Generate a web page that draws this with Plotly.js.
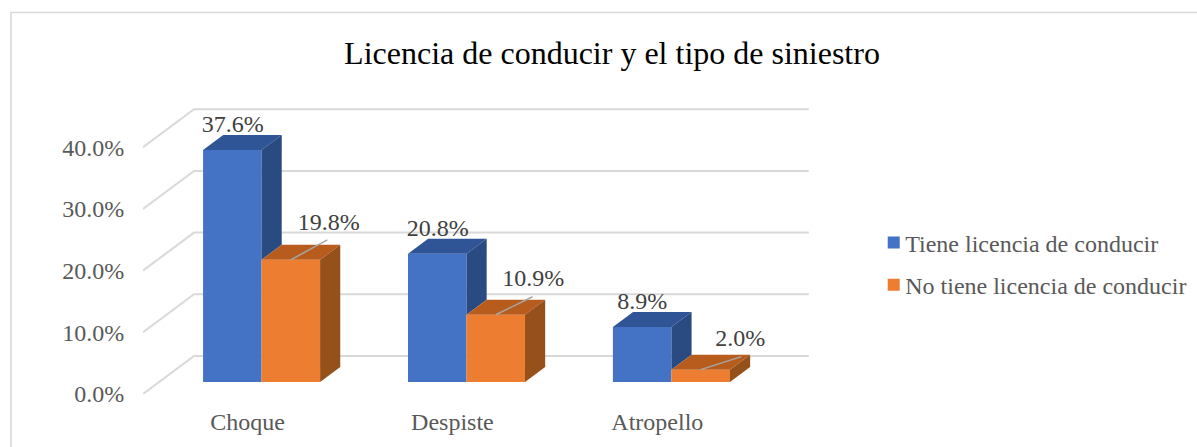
<!DOCTYPE html>
<html>
<head>
<meta charset="utf-8">
<script src="https://cdn.plot.ly/plotly-3.0.1.min.js"></script>
<style>html,body{margin:0;padding:0;background:#fff;overflow:hidden}</style>
</head>
<body>
<div id="chart" style="width:1197px;height:447px"></div>
<script>
const categories = ['Choque', 'Despiste', 'Atropello'];
const tieneLicencia = [37.6, 20.8, 8.9];
const noTieneLicencia = [19.8, 10.9, 2.0];
const seriesNames = ['Tiene licencia de conducir', 'No tiene licencia de conducir'];
const valueTicks = [0, 10, 20, 30, 40];
const valueTickLabels = ['0.0%', '10.0%', '20.0%', '30.0%', '40.0%'];

// 3D look: oblique projection expressed in axis units
const W = 1197, H = 447, L = 143, R = 808.8, T = 100, B = 394;
const xRange = [-0.5, 2.75], yRange = [0, (B - T) / 6.17];
const pxX = (R - L) / (xRange[1] - xRange[0]), pxY = 6.17;
const DX = 51 / pxX, DY = 38 / pxY;       // floor depth
const dFront = 0.316, dBack = 0.711;      // bar position in depth
const barW = 58.5 / pxX;
const P = (x, v, d) => [x + d * DX, v + d * DY];

function poly(points, color) {
  return { type: 'scatter', mode: 'lines', x: points.map(p => p[0]).concat(points[0][0]),
    y: points.map(p => p[1]).concat(points[0][1]), fill: 'toself', fillcolor: color,
    line: { width: 0, color: color }, showlegend: false, hoverinfo: 'skip' };
}

const faces = [];
categories.forEach((c, i) => {
  const a = tieneLicencia[i], b = noTieneLicencia[i];
  // blue: top + visible part of the side (above the orange block)
  faces.push(poly([P(i - barW, a, dFront), P(i, a, dFront), P(i, a, dBack), P(i - barW, a, dBack)], '#2F5597'));
  faces.push(poly([P(i, a, dFront), P(i, a, dBack), P(i, b, dBack), P(i, b, dFront)], '#2A4A82'));
  // orange: top + side
  faces.push(poly([P(i, b, dFront), P(i + barW, b, dFront), P(i + barW, b, dBack), P(i, b, dBack)], '#B85C1E'));
  faces.push(poly([P(i + barW, b, dFront), P(i + barW, b, dBack), P(i + barW, 0, dBack), P(i + barW, 0, dFront)], '#96501A'));
});

// Front faces are the real bars
const base = dFront * DY, shift = dFront * DX;
const bars = [
  { type: 'bar', name: seriesNames[0], legendgroup: 'a', x: [0, 1, 2], y: tieneLicencia, base: base,
    width: barW, offset: shift - barW, marker: { color: '#4472C4' } },
  { type: 'bar', name: seriesNames[1], legendgroup: 'b', x: [0, 1, 2], y: noTieneLicencia, base: base,
    width: barW, offset: shift, marker: { color: '#ED7D31' } }
];

// Wall / floor grid
const shapes = [];
valueTicks.forEach(v => {
  const a = P(-0.5, v, 0), b = P(-0.5, v, 1), c = P(2.5, v, 1);
  shapes.push({ type: 'path', layer: 'below', xref: 'x', yref: 'y',
    path: `M${a[0]},${a[1]}L${b[0]},${b[1]}L${c[0]},${c[1]}`, line: { color: '#D9D9D9', width: 2 } });
});
// outer frame
const px = v => (v - L) / (R - L), py = v => (B - v) / (B - T);
shapes.push({ type: 'path', layer: 'below', xref: 'paper', yref: 'paper',
  path: `M${px(11)},${py(460)}L${px(11)},${py(12.5)}L${px(1210)},${py(12.5)}`, line: { color: '#D9D9D9', width: 1.6 } });

// Data labels (offsets in screen px from the front-top centre of each bar)
const blueLabelOff = [[0.5, 24], [0.5, 23.5], [0, 24]];
const orangeLabelOff = [[38, 36], [37.5, 35], [39.5, 30]];
const leaderEnd = [[36.5, 20], [36.7, 18], [40.7, 13]];
const fmt = v => v.toFixed(1) + '%';
const labelX = [], labelY = [], labelT = [];
const add = (i, v, cx, off) => {
  const p = P(i + cx, v, dFront);
  labelX.push(p[0] + off[0] / pxX); labelY.push(p[1] + off[1] / pxY); labelT.push(fmt(v));
};
categories.forEach((c, i) => add(i, tieneLicencia[i], -barW / 2, blueLabelOff[i]));
categories.forEach((c, i) => add(i, noTieneLicencia[i], barW / 2, orangeLabelOff[i]));
const labels = { type: 'scatter', mode: 'text', x: labelX, y: labelY, text: labelT, textposition: 'middle center',
  textfont: { family: 'Liberation Serif', size: 24, color: '#404040' }, cliponaxis: false, showlegend: false, hoverinfo: 'skip' };
const leaders = categories.map((c, i) => {
  const p = P(i + barW / 2, noTieneLicencia[i], dFront);
  return { type: 'scatter', mode: 'lines', x: [p[0], p[0] + leaderEnd[i][0] / pxX], y: [p[1], p[1] + leaderEnd[i][1] / pxY],
    line: { color: '#A6A6A6', width: 1.5 }, showlegend: false, hoverinfo: 'skip' };
});

const layout = {
  width: W, height: H, paper_bgcolor: '#fff', plot_bgcolor: 'rgba(0,0,0,0)',
  margin: { l: L, r: W - R, t: T, b: H - B, pad: 0, autoexpand: false },
  barmode: 'overlay', shapes: shapes, hovermode: false,
  font: { family: 'Liberation Serif', color: '#595959' },
  title: { text: 'Licencia de conducir y el tipo de siniestro', x: 612 / W, xanchor: 'center', y: 1 - 53 / H, yanchor: 'middle',
    font: { family: 'Liberation Serif', size: 32, color: '#000000' } },
  xaxis: { range: xRange, tickmode: 'array', tickvals: categories.map((c, i) => i + 2 / pxX), ticktext: categories, showgrid: false, zeroline: false, showline: false,
    ticks: 'outside', ticklen: 6, tickcolor: 'rgba(0,0,0,0)', tickfont: { family: 'Liberation Serif', size: 24, color: '#595959' } },
  yaxis: { range: yRange, tickmode: 'array', tickvals: valueTicks, ticktext: valueTickLabels, showgrid: false, zeroline: false, showline: false,
    ticks: 'outside', ticklen: 13, tickcolor: 'rgba(0,0,0,0)', tickfont: { family: 'Liberation Serif', size: 24, color: '#595959' } },
  legend: { x: px(873.5), y: py(264), xanchor: 'left', yanchor: 'middle', font: { family: 'Liberation Serif', size: 24, color: '#595959' },
    traceorder: 'grouped', tracegroupgap: 8, bgcolor: 'rgba(0,0,0,0)', itemclick: false, itemdoubleclick: false,
    entrywidth: 275, entrywidthmode: 'pixels' }
};

Plotly.newPlot('chart', bars.concat(faces, leaders, [labels]), layout, { displayModeBar: false, staticPlot: true }).then(() => {
  // tighten the gap between legend swatch and text
  document.querySelectorAll('.legendtext').forEach(t => t.setAttribute('x', 31.5));
});
</script>
</body>
</html>
